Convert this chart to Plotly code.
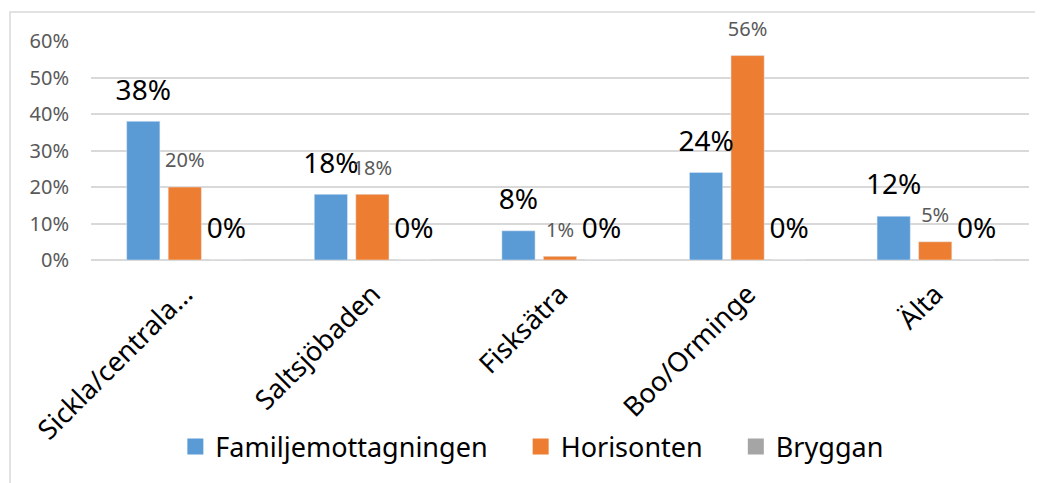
import plotly.graph_objects as go

categories = ["Sickla/centrala…", "Saltsjöbaden", "Fisksätra", "Boo/Orminge", "Älta"]
familj = [0.38, 0.18, 0.08, 0.24, 0.12]
horisonten = [0.20, 0.18, 0.01, 0.56, 0.05]
bryggan = [0.0, 0.0, 0.0, 0.0, 0.0]
y_ticks = [0, 0.1, 0.2, 0.3, 0.4, 0.5, 0.6]
y_ticktext = ["0%", "10%", "20%", "30%", "40%", "50%", "60%"]

series = [
    ("Familjemottagningen", familj, "#5B9BD5", dict(size=28, color="#000000")),
    ("Horisonten", horisonten, "#ED7D31", dict(size=20, color="#595959")),
    ("Bryggan", bryggan, "#A5A5A5", dict(size=28, color="#000000")),
]

FONT = "Noto Sans"
BARGAP = 0.336
PAD = "\u00a0" * 4

fig = go.Figure()
for name, vals, color, tf in series:
    fig.add_trace(go.Bar(
        name=name, x=categories, y=vals, marker_color=color,
        hoverinfo="skip", showlegend=False,
    ))
for name, vals, color, tf in series:
    fig.add_trace(go.Scatter(
        x=categories, y=vals, mode="markers+text",
        text=[f"{round(v*100)}%" for v in vals],
        textposition="top center",
        textfont=dict(family=FONT, **tf),
        marker=dict(size=22, opacity=0),
        showlegend=False, hoverinfo="skip", cliponaxis=False,
    ))
# legend entries (square swatches) on a hidden overlay axis pair
for i, (name, vals, color, tf) in enumerate(series):
    fig.add_trace(go.Scatter(
        x=[None], y=[None], mode="markers", xaxis="x2", yaxis="y2",
        name=name + (PAD if i < len(series) - 1 else ""),
        marker=dict(symbol="square", size=16, color=color),
        hoverinfo="skip",
    ))

# page body has an 8px margin; the figure is placed at (8, 8)
fig.update_layout(
    width=1035, height=475,
    margin=dict(l=83, r=14, t=33, b=215),
    paper_bgcolor="white", plot_bgcolor="white",
    barmode="group", bargap=BARGAP, bargroupgap=0.2,
    scattermode="group", scattergap=BARGAP,
    font=dict(family=FONT, color="#000000"),
    showlegend=True,
    legend=dict(orientation="h", x=0.47, xanchor="center", y=-0.854, yanchor="middle",
                font=dict(family=FONT, size=27, color="#000000"),
                itemclick=False, itemdoubleclick=False, tracegroupgap=0, itemwidth=30),
    xaxis=dict(tickangle=-45, tickfont=dict(family=FONT, size=27, color="#000000"),
               showgrid=False, showline=False, ticks="", automargin=False,
               ticklabelstandoff=12),
    yaxis=dict(range=[0, 0.6], tickvals=y_ticks, ticktext=y_ticktext,
               tickfont=dict(family=FONT, size=20, color="#595959"),
               showgrid=True, gridcolor="#D9D9D9", gridwidth=1.5,
               zeroline=True, zerolinecolor="#D9D9D9", zerolinewidth=1.5,
               showline=False, ticks="", ticklabelstandoff=21, automargin=False),
    xaxis2=dict(overlaying="x", visible=False, range=[0, 1]),
    yaxis2=dict(overlaying="y", visible=False, range=[0, 1]),
    shapes=[dict(type="rect", xref="paper", yref="paper",
                 x0=(10 - 91) / 938, x1=1.1, y0=-1.2, y1=(260 - 12) / 219,
                 line=dict(color="#D9D9D9", width=1.5), fillcolor="rgba(0,0,0,0)", layer="below")],
)

fig.write_html("out.html")
